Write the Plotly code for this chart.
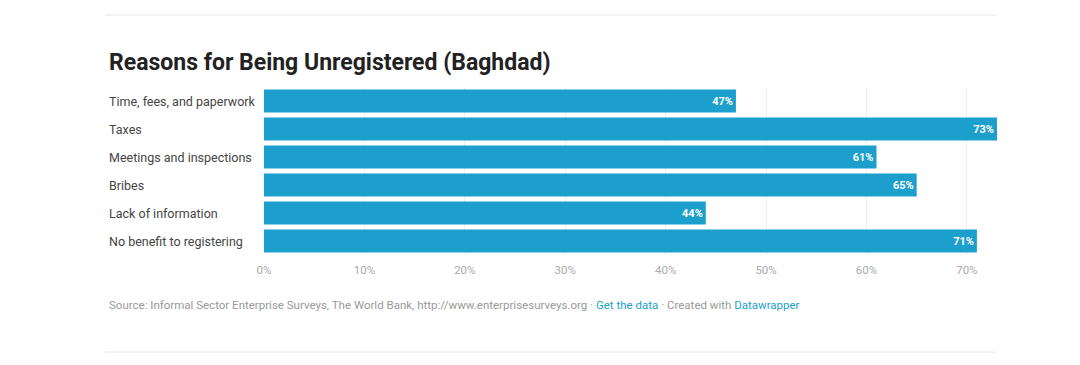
import plotly.graph_objects as go

categories = ["Time, fees, and paperwork", "Taxes", "Meetings and inspections",
              "Bribes", "Lack of information", "No benefit to registering"]
values = [47, 73, 61, 65, 44, 71]
tick_vals = [0, 10, 20, 30, 40, 50, 60, 70]
tick_text = ["0%", "10%", "20%", "30%", "40%", "50%", "60%", "70%"]

BAR = "#1d9fce"

# page body has an 8px margin; compensate in the figure margins
L, T, PW, PH = 256, 79, 736, 168

fig = go.Figure()
fig.add_trace(go.Bar(
    x=values, y=categories, orientation="h",
    marker=dict(color=BAR, line=dict(width=0)),
    text=[f"<b>{v}%</b>" for v in values], textposition="inside",
    insidetextanchor="end",
    textfont=dict(family="Roboto", size=11, color="white"),
))

fig.update_layout(
    width=1080, height=365,
    margin=dict(l=L, r=1080 - L - PW, t=T, b=365 - T - PH),
    paper_bgcolor="white", plot_bgcolor="white",
    showlegend=False, bargap=0.17,
    uniformtext=dict(minsize=10, mode="show"),
    xaxis=dict(range=[0, 73.3], tickvals=tick_vals, ticktext=tick_text,
               showgrid=True, gridcolor="#efefef", gridwidth=1, zeroline=False,
               showline=False, ticks="", ticklen=0, ticklabelstandoff=6,
               tickfont=dict(family="Roboto", size=11.5, color="#aaaaaa")),
    yaxis=dict(autorange="reversed", showticklabels=False, showgrid=False,
               zeroline=False, showline=False),
    font=dict(family="Roboto"),
)

LEFT = 107 - 8  # page x of text left edge, in figure coords
for c in categories:
    fig.add_annotation(x=0, xref="paper", xanchor="left", xshift=LEFT - L,
                       y=c, yref="y", text=c, showarrow=False,
                       font=dict(family="Roboto", size=12.5, color="#444444"))

def py(page_y):
    return (T + PH - (page_y - 8)) / PH

def px(page_x):
    return (page_x - 8 - L) / PW

fig.add_annotation(xref="paper", yref="paper", x=px(107), y=py(62),
                   xanchor="left", yanchor="middle", showarrow=False,
                   text="<b>Reasons for Being Unregistered (Baghdad)</b>",
                   font=dict(family="Roboto", size=23, color="#222222"))

fig.add_annotation(xref="paper", yref="paper", x=px(107), y=py(305),
                   xanchor="left", yanchor="middle", showarrow=False,
                   text=("Source: Informal Sector Enterprise Surveys, The World Bank, "
                         "http://www.enterprisesurveys.org · "
                         "<span style='color:#1d9fce'>Get the data</span> · Created with "
                         "<span style='color:#1d9fce'>Datawrapper</span>"),
                   font=dict(family="Roboto", size=11.5, color="#999999"))

for yy in [15, 352]:
    fig.add_shape(type="line", xref="paper", yref="paper",
                  x0=px(105), x1=px(996), y0=py(yy), y1=py(yy),
                  line=dict(color="#e6e6e6", width=1))

fig.write_html("out.html")
